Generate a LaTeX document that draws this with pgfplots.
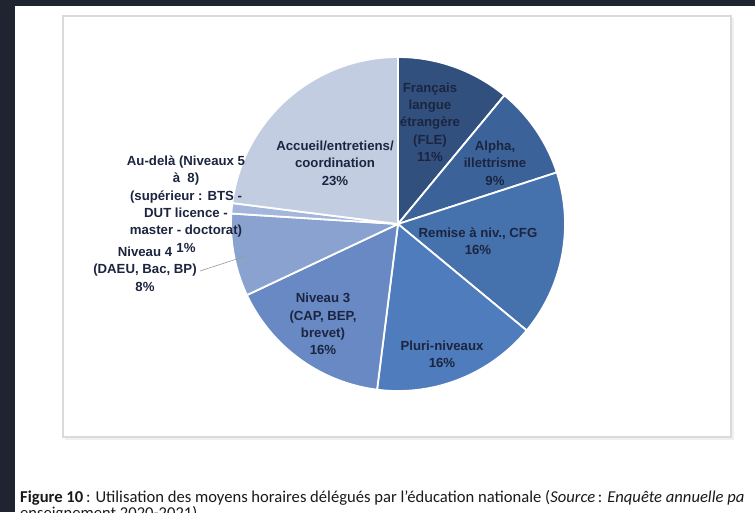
\documentclass[border=0pt]{standalone}
\usepackage{pgfplots}
\pgfplotsset{compat=1.18}
\usepackage{pgfplotstable}
\usepackage{fontspec}
\setmainfont{Liberation Sans}
\newfontfamily\capfont{Carlito}

\definecolor{frame}{HTML}{1E2430}
\definecolor{boxline}{HTML}{DADADA}
\definecolor{labeltext}{HTML}{1C2540}
\definecolor{captext}{HTML}{1A1A1A}
\definecolor{slice0}{HTML}{31507E}
\definecolor{slice1}{HTML}{3B6399}
\definecolor{slice2}{HTML}{4571AC}
\definecolor{slice3}{HTML}{4E7CBC}
\definecolor{slice4}{HTML}{6889C3}
\definecolor{slice5}{HTML}{8AA2CF}
\definecolor{slice6}{HTML}{A4B6DB}
\definecolor{slice7}{HTML}{C3CDE2}

% share of hours, in %, clockwise from 12 o'clock
\pgfplotstableread[col sep=comma]{
slice,value
FLE,11
Alpha,9
Remise,16
Pluri,16
Niveau3,16
Niveau4,8
Audela,1
Accueil,23
}\piedata

\begin{document}
\begin{tikzpicture}
\begin{scope}[x=1pt,y=-1pt]
  \fill[frame] (0,0) rectangle (755,512);
  \fill[white] (15,6) rectangle (755,512);
  \draw[black!6, line width=2pt] (65,439) -- (733,439) -- (733,18);
  \draw[boxline, line width=1.2pt] (63,16) rectangle (731,437);
\end{scope}

\begin{axis}[
  at={(398pt,-224pt)}, anchor=center,
  x=167pt, y=167pt,
  xmin=-1, xmax=1, ymin=-1, ymax=1,
  hide axis, clip=false,
]
\def\startang{90}
\pgfplotsforeachungrouped \i in {0,...,7}{
  \pgfplotstablegetelem{\i}{value}\of\piedata
  \pgfmathsetmacro\endang{\startang-3.6*\pgfplotsretval}
  \edef\doslice{\noexpand\addplot[fill=slice\i, draw=white, line width=1.8pt,
    domain=\startang:\endang, samples=80] ({cos(x)},{sin(x)}) -- (0,0) -- cycle;}
  \doslice
  \global\let\startang\endang
}
\end{axis}

\begin{scope}[x=1pt,y=-1pt,
  lab/.style={align=center, text=labeltext, inner sep=0pt,
    font=\bfseries\fontsize{13.2}{17.3}\selectfont}]
  \node[lab] at (430,122) {Français\\langue\\étrangère\\(FLE)\\11\%};
  \node[lab] at (495,163) {Alpha,\\illettrisme\\9\%};
  \node[lab] at (478,241) {Remise à niv., CFG\\16\%};
  \node[lab] at (442,354) {Pluri-niveaux\\16\%};
  \node[lab] at (323,324) {Niveau 3\\(CAP, BEP,\\brevet)\\16\%};
  \node[lab] at (335,163) {Accueil/entretiens/\\coordination\\23\%};
  \node[lab] at (186,204) {Au-delà (Niveaux 5\\à~~8)\\(supérieur : BTS -\\DUT licence -\\master - doctorat)\\1\%};
  \node[lab] at (145,269) {Niveau 4\\(DAEU, Bac, BP)\\8\%};
  \draw[black!40, line width=0.6pt] (200,271) -- (246,256);

  \node[anchor=base west, inner sep=0pt, text=captext,
    font=\capfont\fontsize{16.6}{17}\selectfont] at (20,502)
    {\textbf{Figure 10}\,: Utilisation des moyens horaires délégués par l’éducation nationale (\textit{Source}\,: \textit{Enquête annuelle pa}};
  \node[anchor=base west, inner sep=0pt, text=captext,
    font=\capfont\fontsize{16.6}{17}\selectfont] at (20,518)
    {enseignement 2020-2021)};
\end{scope}
\pgfresetboundingbox
\path[use as bounding box] (0,0) rectangle (755pt,-512pt);
\end{tikzpicture}
\end{document}
